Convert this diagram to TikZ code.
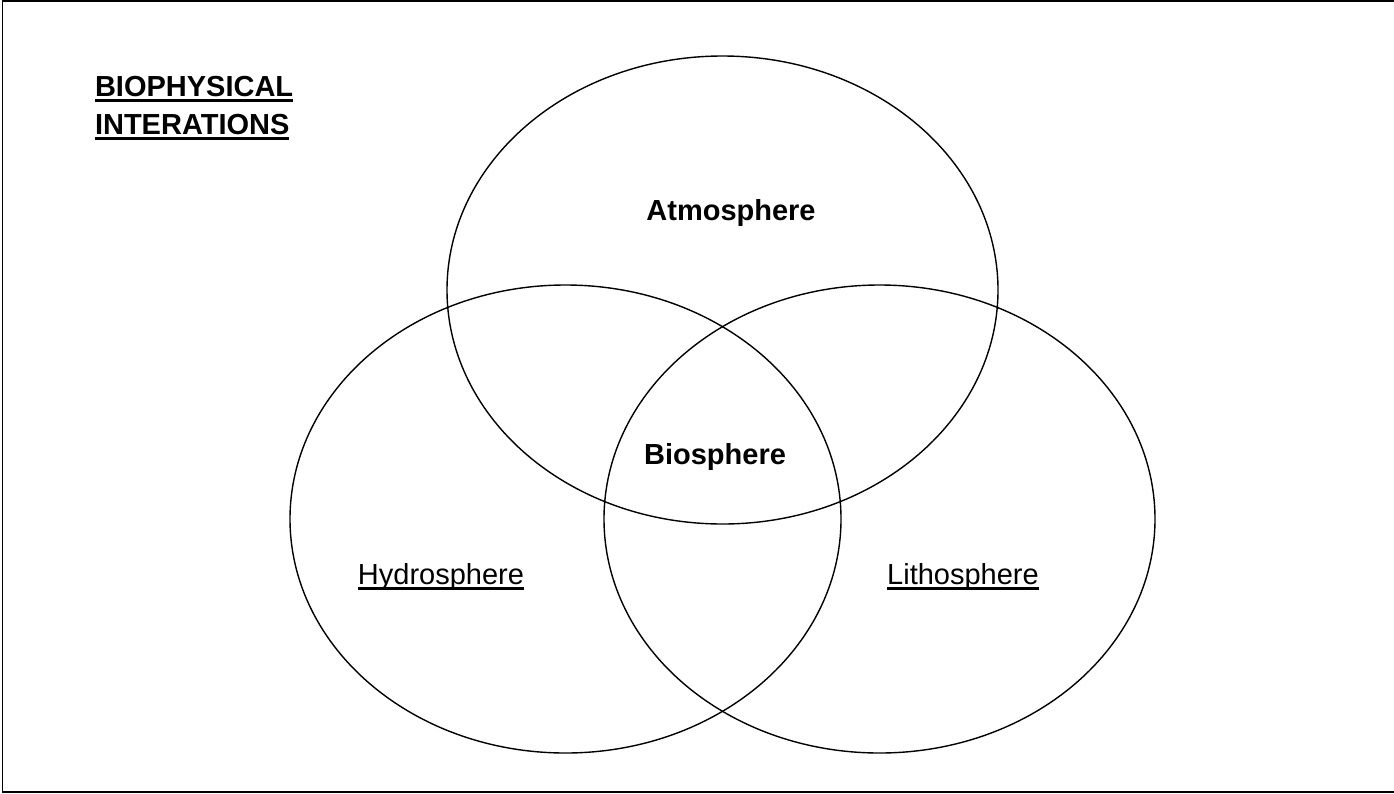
\documentclass[tikz,border=0pt]{standalone}
\usepackage{fontspec}
\setmainfont{Liberation Sans}
\usetikzlibrary{shapes.geometric}
\newcommand\ulbox[1]{\setbox0\hbox{#1}\leavevmode\rlap{\rule[-6pt]{\wd0}{2.6pt}}\box0}
\begin{document}
\begin{tikzpicture}[x=1pt,y=-1pt,
  every node/.style={inner sep=0pt, outer sep=0pt},
  lbl/.style={font=\fontsize{29}{34}\selectfont},
  blbl/.style={font=\fontsize{29}{34}\selectfont\bfseries},
  head/.style={font=\fontsize{29}{34}\selectfont\bfseries, anchor=base west},
  sphere/.style={draw, ellipse, line width=1.4pt, minimum width=551pt, minimum height=468pt}]
\useasboundingbox (0,0) rectangle (1394,793);
\draw[line width=1.6pt] (1394,1.2) -- (2.3,1.2) -- (2.3,792) -- (1394,792);
\node[sphere] (atmo) at (722.5,290) {};
\node[sphere] (hydro) at (565.5,519) {};
\node[sphere] (litho) at (879.5,519) {};
\node[head] (t1) at (95,96) {\ulbox{BIOPHYSICAL}};
\node[head] (t2) at (95,134) {\ulbox{INTERATIONS}};
\node[blbl, anchor=base] (atm) at (731,220) {Atmosphere};
\node[blbl, anchor=base] (bio) at (715,464) {Biosphere};
\node[lbl, anchor=base] (hyd) at (441,584) {\ulbox{Hydrosphere}};
\node[lbl, anchor=base] (lit) at (963,584) {\ulbox{Lithosphere}};
\end{tikzpicture}
\end{document}
